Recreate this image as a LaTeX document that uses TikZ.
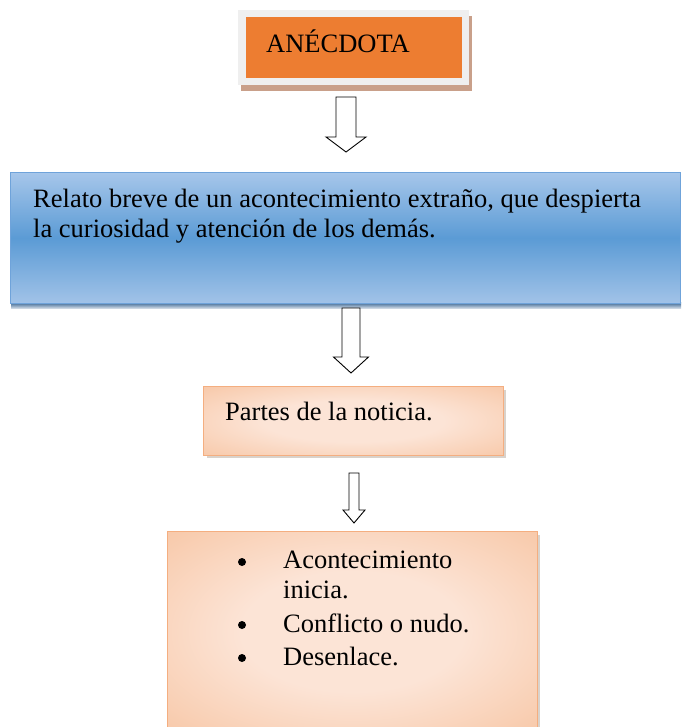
\documentclass[tikz,border=0pt]{standalone}
\usepackage{fontspec}
\setmainfont{Liberation Serif}
\definecolor{framegray}{HTML}{EFEFEF}
\definecolor{shadowbrown}{HTML}{C9A08A}
\definecolor{anecorange}{HTML}{ED7D31}
\definecolor{blueTop}{HTML}{A6C6EA}
\definecolor{blueMid}{HTML}{5B9BD5}
\definecolor{blueBot}{HTML}{A2C3E8}
\definecolor{blueEdge}{HTML}{6FA3DA}
\definecolor{blueDark}{HTML}{2E5C8C}
\definecolor{peachLight}{HTML}{FCE4D6}
\definecolor{peachMid}{HTML}{F8CBAD}
\definecolor{peachDark}{HTML}{F4B084}
\definecolor{peachEdge}{HTML}{F4AE80}
\definecolor{shadowgray}{HTML}{D9D2CB}
\pgfdeclareradialshading{peachrad}{\pgfpoint{0bp}{0bp}}{color(0bp)=(peachLight); color(15bp)=(peachLight); color(34bp)=(peachMid); color(55bp)=(peachDark); color(100bp)=(peachDark)}
\newcommand\blkarrow[6]{\draw[blk] (#1-#3,#2) -- (#1+#3,#2) -- (#1+#3,#4) -- (#1+#5,#4) -- (#1,#6) -- (#1-#5,#4) -- (#1-#3,#4) -- cycle;}
\begin{document}
\begin{tikzpicture}[x=1bp,y=-1bp,
  txt/.style={inner sep=0pt, anchor=base west, font=\fontsize{26.5bp}{30bp}\selectfont},
  box/.style={inner sep=0pt, anchor=north west},
  blk/.style={draw=black, line width=0.9bp, fill=white, line join=miter},
  bul/.style={circle, fill=black, inner sep=0pt, minimum size=8bp},
  peach/.style={shading=peachrad, draw=peachEdge, line width=1.2bp}]
\useasboundingbox (0,0) rectangle (682,727);
% title
\fill[shadowbrown] (241,16) rectangle (472,91);
\node[box, fill=framegray, minimum width=231bp, minimum height=75bp] (frame) at (238,10) {};
\node[box, fill=anecorange, minimum width=216bp, minimum height=61bp] (title) at (246,17) {};
\node[txt] (titletext) at (266,53) {ANÉCDOTA};
% arrow 1
\blkarrow{346}{97}{10}{137}{20}{152}
% definition
\shade[top color=blueDark, bottom color=blueDark!25] (11,302) rectangle (681,308);
\node[box, top color=blueTop, bottom color=blueBot, middle color=blueMid, draw=blueEdge, line width=1.2bp, minimum width=670bp, minimum height=131bp] (def) at (10,172) {};
\node[txt] (deftext1) at (33,207) {Relato breve de un acontecimiento extraño, que despierta};
\node[txt] (deftext2) at (33,237) {la curiosidad y atención de los demás.};
% arrow 2
\blkarrow{351}{308}{9}{357}{17.5}{373}
% partes
\fill[shadowgray] (207,390) rectangle (506,458);
\node[box, peach, minimum width=300bp, minimum height=69bp] (partes) at (203,386) {};
\node[txt] (partestext) at (225,420) {Partes de la noticia.};
% arrow 3
\blkarrow{354}{473}{5}{510}{11}{523}
% list box
\fill[shadowgray] (171,535) rectangle (540,727);
\node[box, peach, minimum width=370bp, minimum height=200bp] (list) at (167,531) {};
\node[bul] (b1) at (242,562) {};
\node[bul] (b2) at (242,625) {};
\node[bul] (b3) at (242,658) {};
\node[txt] (l1) at (283,568) {Acontecimiento};
\node[txt] (l1b) at (283,598) {inicia.};
\node[txt] (l2) at (283,632) {Conflicto o nudo.};
\node[txt] (l3) at (283,665) {Desenlace.};
\end{tikzpicture}
\end{document}
